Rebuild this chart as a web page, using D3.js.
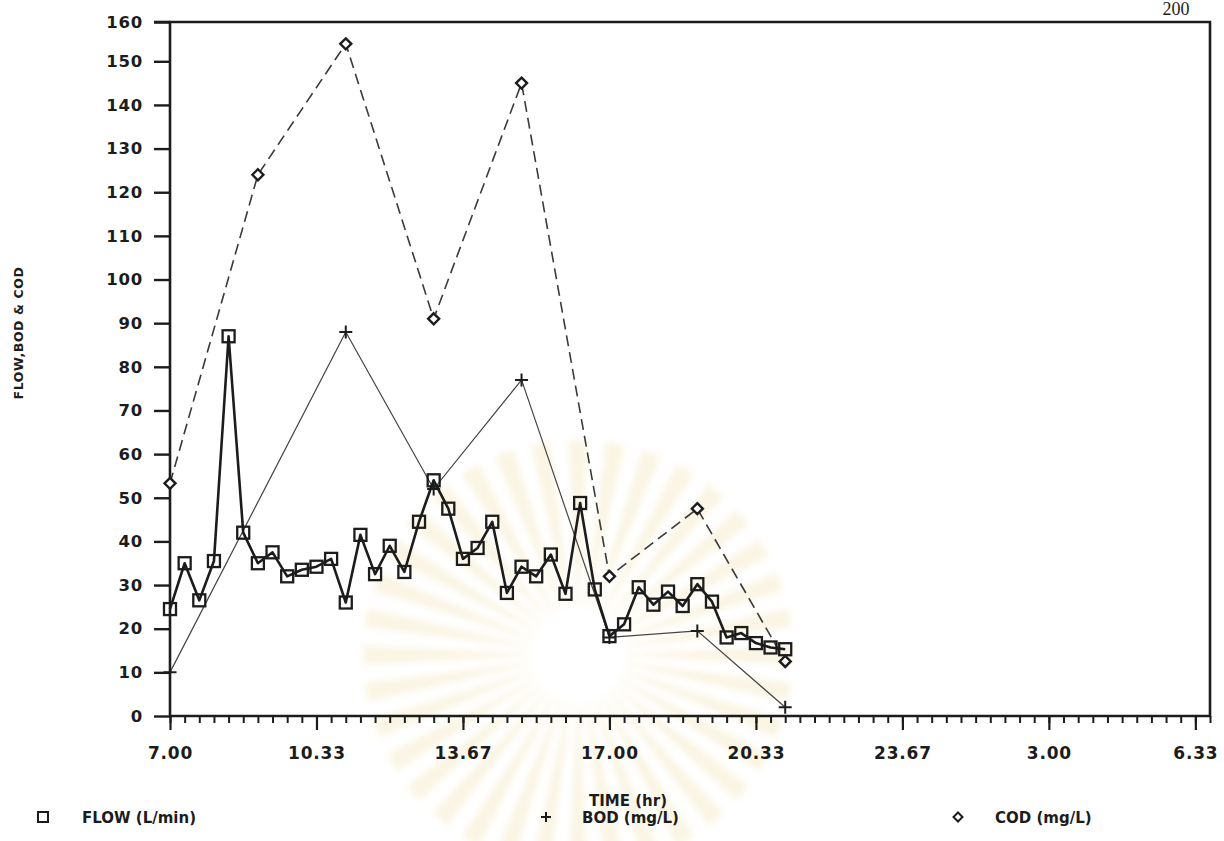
<!DOCTYPE html>
<html>
<head>
<meta charset="utf-8">
<script src="https://cdn.jsdelivr.net/npm/d3@7"></script>
<style>
  html, body { margin: 0; padding: 0; background: #fff; }
  svg text { font-family: "DejaVu Sans", sans-serif; font-weight: bold; fill: #1c1c1c; }
</style>
</head>
<body>
<svg id="chart" width="1224" height="841"></svg>
<script>
// ---- data -------------------------------------------------------------
// Flow sampled every 20 minutes, 07:00 - 21:00
const flowTimes = ["07:00","07:20","07:40","08:00","08:20","08:40","09:00","09:20","09:40",
  "10:00","10:20","10:40","11:00","11:20","11:40","12:00","12:20","12:40","13:00","13:20",
  "13:40","14:00","14:20","14:40","15:00","15:20","15:40","16:00","16:20","16:40","17:00",
  "17:20","17:40","18:00","18:20","18:40","19:00","19:20","19:40","20:00","20:20","20:40","21:00"];
const flowValues = [24.5, 35, 26.5, 35.5, 87, 42, 35, 37.5, 32, 33.5, 34.2, 36, 26,
  41.5, 32.5, 39, 33, 44.5, 54, 47.5, 36, 38.5, 44.5, 28.2, 34.2, 32, 37, 28,
  48.8, 29, 18.3, 21, 29.5, 25.5, 28.5, 25.2, 30.2, 26.2, 18, 19, 16.7, 15.7, 15.3];

// BOD grab samples (mg/L)
const bodTimes = ["07:00","11:00","13:00","15:00","17:00","19:00","21:00"];
const bodValues = [10, 88, 52, 77, 18, 19.5, 2];

// COD grab samples (mg/L)
const codTimes = ["07:00","09:00","11:00","13:00","15:00","17:00","19:00","21:00"];
const codValues = [53.3, 124, 154, 91, 145, 32, 47.5, 12.5];

// axis ticks
const xMajorValues = [7, 10 + 1/3, 13 + 2/3, 17, 20 + 1/3, 23 + 2/3, 27, 30 + 1/3];
const xMajorLabels = ["7.00","10.33","13.67","17.00","20.33","23.67","3.00","6.33"];
const yTickValues = [0,10,20,30,40,50,60,70,80,90,100,110,120,130,140,150];
const yTickLabels = ["0","10","20","30","40","50","60","70","80","90","100","110","120","130","140","150"];
const yTopLabel = "160";

const legendItems = ["FLOW (L/min)", "BOD (mg/L)", "COD (mg/L)"];

// ---- helpers ----------------------------------------------------------
const toHours = s => { const [h, m] = s.split(":").map(Number); return h + m / 60; };
const zip = (ts, vs) => ts.map((t, i) => ({ t: toHours(t), v: vs[i] }));
const flow = zip(flowTimes, flowValues);
const bod = zip(bodTimes, bodValues);
const cod = zip(codTimes, codValues);

const ink = "#1c1c1c";
const svg = d3.select("#chart");

// faint emblem printed on the paper
svg.append("defs").append("filter").attr("id", "soft")
  .append("feGaussianBlur").attr("stdDeviation", 3);
const emb = svg.append("g").attr("transform", "translate(578,655)")
  .attr("opacity", 0.35).attr("filter", "url(#soft)");
d3.range(36).forEach(i => {
  const a = i / 36 * 2 * Math.PI, w = 0.045;
  const r0 = 48, r1 = 215;
  const p = [[Math.cos(a - w*0.4) * r0, Math.sin(a - w*0.4) * r0],
             [Math.cos(a - w) * r1, Math.sin(a - w) * r1],
             [Math.cos(a + w) * r1, Math.sin(a + w) * r1],
             [Math.cos(a + w*0.4) * r0, Math.sin(a + w*0.4) * r0]];
  emb.append("path").attr("d", "M" + p.join("L") + "Z").attr("fill", "#f1e2b0");
});

// ---- scales -----------------------------------------------------------
const xMin = 7, xMax = 30 + 2/3, yMax = 159;
const x = d3.scaleLinear().domain([xMin, xMax]).range([170, 1210]);
const y = d3.scaleLinear().domain([0, yMax]).range([716, 22]);

// ---- axes -------------------------------------------------------------
const yAxis = d3.axisLeft(y)
  .tickValues([...yTickValues, yMax])
  .tickSize(16)
  .tickFormat((d, i) => i < yTickLabels.length ? yTickLabels[i] : yTopLabel);
const gy = svg.append("g").attr("transform", `translate(${x(xMin)},0)`).call(yAxis);
gy.select(".domain").remove();
gy.selectAll(".tick line").attr("stroke", ink).attr("stroke-width", 2.4);
gy.selectAll(".tick text").attr("x", -27).attr("font-size", 16.5).attr("letter-spacing", 0.8).attr("fill", ink);

// minor x ticks every 20 minutes
const xMinor = d3.range(0, 72).map(k => xMin + k / 3);
const xMinorAxis = d3.axisBottom(x).tickValues(xMinor).tickSize(7).tickFormat("");
const gxm = svg.append("g").attr("transform", `translate(0,${y(0)})`).call(xMinorAxis);
gxm.select(".domain").remove();
gxm.selectAll(".tick line").attr("stroke", ink).attr("stroke-width", 2);

const xAxis = d3.axisBottom(x).tickValues(xMajorValues).tickSize(14)
  .tickFormat((d, i) => xMajorLabels[i]);
const gx = svg.append("g").attr("transform", `translate(0,${y(0)})`).call(xAxis);
gx.select(".domain").remove();
gx.selectAll(".tick line").attr("stroke", ink).attr("stroke-width", 2.2);
gx.selectAll(".tick text").attr("y", 31).attr("font-size", 17).attr("letter-spacing", 0.8).attr("fill", ink);

// plot frame
svg.append("path")
  .attr("d", `M${x(xMin)},${y(0)}V${y(yMax)}H${x(xMax)}V${y(0)}H${x(xMin)}`)
  .attr("fill", "none").attr("stroke", ink).attr("stroke-width", 2.6);
svg.append("line").attr("x1", x(xMin) - 16).attr("x2", x(xMin))
  .attr("y1", y(yMax)).attr("y2", y(yMax)).attr("stroke", ink).attr("stroke-width", 2.6);

// ---- series -----------------------------------------------------------
const line = d3.line().x(d => x(d.t)).y(d => y(d.v));

svg.append("path").datum(cod).attr("d", line)
  .attr("fill", "none").attr("stroke", "#3a3a3a").attr("stroke-width", 1.6)
  .attr("stroke-dasharray", "11,6");
svg.append("path").datum(bod).attr("d", line)
  .attr("fill", "none").attr("stroke", "#444").attr("stroke-width", 1.2);
svg.append("path").datum(flow).attr("d", line)
  .attr("fill", "none").attr("stroke", ink).attr("stroke-width", 2.6).attr("stroke-linejoin", "round");

const sq = 12;
svg.append("g").selectAll("rect").data(flow).join("rect")
  .attr("x", d => x(d.t) - sq / 2).attr("y", d => y(d.v) - sq / 2)
  .attr("width", sq).attr("height", sq)
  .attr("fill", "none").attr("stroke", ink).attr("stroke-width", 2.3);

const plus = (cx, cy, r) => `M${cx - r},${cy}H${cx + r}M${cx},${cy - r}V${cy + r}`;
svg.append("g").selectAll("path").data(bod).join("path")
  .attr("d", d => plus(x(d.t), y(d.v), 6.5))
  .attr("stroke", ink).attr("stroke-width", 2);

const diamond = (cx, cy, r) => `M${cx},${cy - r}L${cx + r},${cy}L${cx},${cy + r}L${cx - r},${cy}Z`;
svg.append("g").selectAll("path").data(cod).join("path")
  .attr("d", d => diamond(x(d.t), y(d.v), 5.5))
  .attr("fill", "#fff").attr("stroke", ink).attr("stroke-width", 2.4);

// ---- titles and legend ------------------------------------------------
svg.append("text").attr("transform", "translate(23,333) rotate(-90)")
  .attr("text-anchor", "middle").attr("font-size", 12.5).attr("letter-spacing", 0.6)
  .text("FLOW,BOD & COD");

svg.append("text").attr("x", 628).attr("y", 806).attr("text-anchor", "middle")
  .attr("font-size", 15).text("TIME (hr)");

const legY = 817;
const legend = svg.append("g");
legend.append("rect").attr("x", 38).attr("y", legY - 5).attr("width", 10).attr("height", 10)
  .attr("fill", "none").attr("stroke", ink).attr("stroke-width", 2);
legend.append("path").attr("d", plus(546, legY, 5)).attr("stroke", ink).attr("stroke-width", 2);
legend.append("path").attr("d", diamond(958, legY, 4.5)).attr("fill", "none").attr("stroke", ink).attr("stroke-width", 2);
const legX = [82, 582, 995];
legendItems.forEach((s, i) => {
  legend.append("text").attr("x", legX[i]).attr("y", legY + 6).attr("font-size", 15).text(s);
});

// page number
svg.append("text").attr("x", 1176).attr("y", 15).attr("text-anchor", "middle")
  .style("font-family", "'Liberation Serif', serif").style("font-weight", "normal")
  .attr("font-size", 18).text("200");
</script>
</body>
</html>
